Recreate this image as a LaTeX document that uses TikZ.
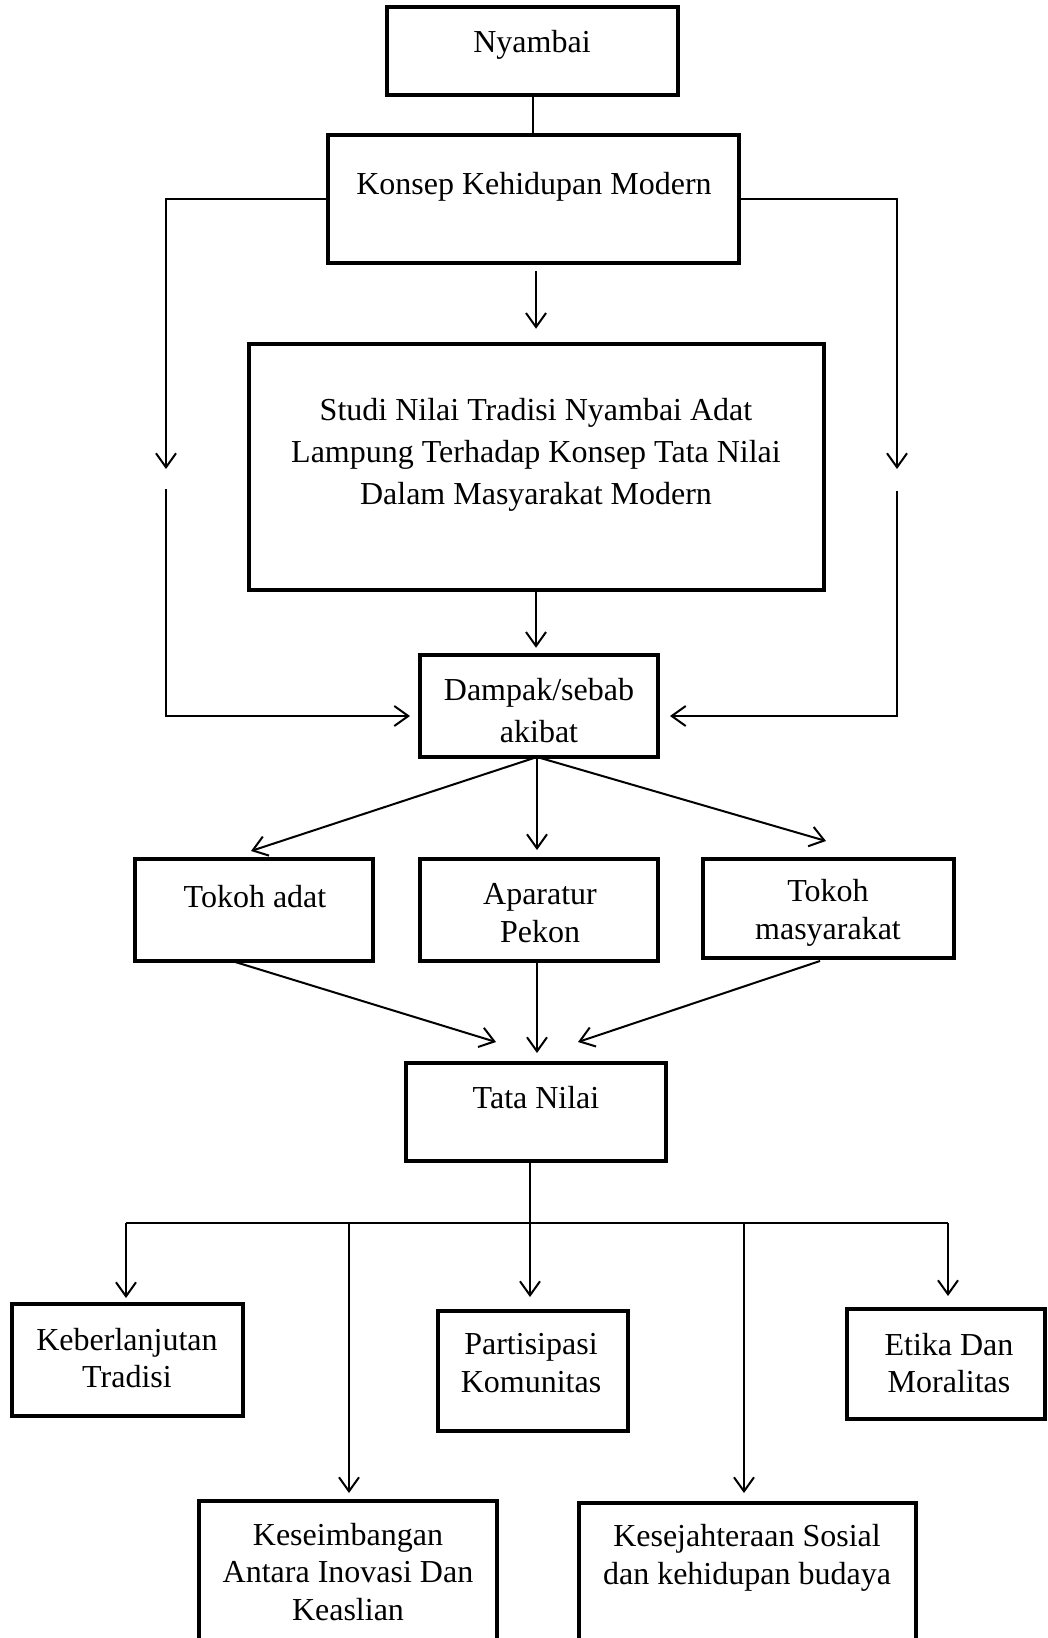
\documentclass[tikz,border=0pt]{standalone}
\usepackage{fontspec}
\setmainfont{Liberation Serif}
\usetikzlibrary{arrows.meta}
\begin{document}
\begin{tikzpicture}[x=1pt,y=-1pt,
  box/.style={draw, line width=4.5pt, inner sep=0pt},
  txt/.style={font=\fontsize{32}{42}\selectfont, align=center, inner sep=0pt},
  txtb/.style={font=\fontsize{32}{37.5}\selectfont, align=center, inner sep=0pt},
  conn/.style={draw, line width=2pt},
  arr/.style={conn, -{Straight Barb[length=14pt,width=20pt,line width=2pt]}}]
\useasboundingbox (0,0) rectangle (1048,1638);
\clip (0,0) rectangle (1048,1638);
\fill[white] (0,0) rectangle (1048,1638);
% boxes
\node[box, minimum width=291pt, minimum height=88pt] (nyB) at (532.5,51) {};
\node[txt] (nyT) at (532,45) {Nyambai};
\node[box, minimum width=411pt, minimum height=128pt] (koB) at (533.5,199) {};
\node[txt] (koT) at (534,187) {Konsep Kehidupan Modern};
\node[box, minimum width=575pt, minimum height=246pt] (stB) at (536.5,467) {};
\node[txt] (stT) at (536,455) {Studi Nilai Tradisi Nyambai Adat\\Lampung Terhadap Konsep Tata Nilai\\Dalam Masyarakat Modern};
\node[box, minimum width=238pt, minimum height=102pt] (dmB) at (539,706) {};
\node[txt] (dmT) at (539,711) {Dampak/sebab\\akibat};
\node[box, minimum width=238pt, minimum height=102pt] (taB) at (254,910) {};
\node[txt] (taT) at (255,897) {Tokoh adat};
\node[box, minimum width=238pt, minimum height=102pt] (apB) at (539,910) {};
\node[txtb] (apT) at (540,913) {Aparatur\\Pekon};
\node[box, minimum width=251pt, minimum height=99pt] (tmB) at (828.5,908.5) {};
\node[txtb] (tmT) at (828,913) {Tokoh\\masyarakat};
\node[box, minimum width=260pt, minimum height=98pt] (tnB) at (536,1112) {};
\node[txt] (tnT) at (536,1098) {Tata Nilai};
\node[box, minimum width=231pt, minimum height=112pt] (kbB) at (127.5,1360) {};
\node[txtb] (kbT) at (127,1358) {Keberlanjutan\\Tradisi};
\node[box, minimum width=190pt, minimum height=120pt] (paB) at (533,1371) {};
\node[txtb] (paT) at (531,1363) {Partisipasi\\Komunitas};
\node[box, minimum width=198pt, minimum height=110pt] (etB) at (946,1364) {};
\node[txtb] (etT) at (949,1363) {Etika Dan\\Moralitas};
\node[box, minimum width=298pt, minimum height=159pt] (ksB) at (348,1580.5) {};
\node[txtb] (ksT) at (348,1572) {Keseimbangan\\Antara Inovasi Dan\\Keaslian};
\node[box, minimum width=337pt, minimum height=157pt] (kjB) at (747.5,1581.5) {};
\node[txtb] (kjT) at (747,1558) {Kesejahteraan Sosial\\dan kehidupan budaya};
% coordinates
\coordinate (L1) at (166,469);
\coordinate (L2) at (166,489);
\coordinate (Lt) at (410,716);
\coordinate (R1) at (897,469);
\coordinate (R2) at (897,491);
\coordinate (Rt) at (670,716);
\coordinate (dmS) at (537,757);
\coordinate (tA) at (251,851);
\coordinate (tB) at (537,850);
\coordinate (tC) at (826,841);
\coordinate (sA) at (232,961);
\coordinate (sC) at (820,961);
\coordinate (uA) at (496,1042);
\coordinate (uB) at (537,1053);
\coordinate (uC) at (578,1042);
\coordinate (J) at (530,1223);
\coordinate (H1) at (126,1223);
\coordinate (H2) at (948,1223);
\coordinate (D2) at (349,1223);
\coordinate (D4) at (744,1223);
% connectors
\draw[conn] (nyB.south) -- (nyB.south |- koB.north);
\draw[arr] (koB.west) -| (L1);
\draw[arr] (L2) |- (Lt);
\draw[arr] (koB.east) -| (R1);
\draw[arr] (R2) |- (Rt);
\draw[arr, shorten <=6pt, shorten >=13pt] (koB.south -| 536,0) -- (stB.north -| 536,0);
\draw[arr, shorten >=5pt] (stB.south -| 536,0) -- (dmB.north -| 536,0);
\draw[arr] (dmS) -- (tA);
\draw[arr] (dmS) -- (tB);
\draw[arr] (dmS) -- (tC);
\draw[arr] (sA) -- (uA);
\draw[arr] (apB.south -| 537,0) -- (uB);
\draw[arr] (sC) -- (uC);
\draw[conn] (tnB.south -| J) -- (J);
\draw[conn] (H1) -- (H2);
\draw[arr] (H1) -- (H1 |- 0,1298);
\draw[arr] (D2) -- (D2 |- 0,1493);
\draw[arr] (J) -- (J |- 0,1297);
\draw[arr] (D4) -- (D4 |- 0,1493);
\draw[arr] (H2) -- (H2 |- 0,1296);
\end{tikzpicture}
\end{document}
